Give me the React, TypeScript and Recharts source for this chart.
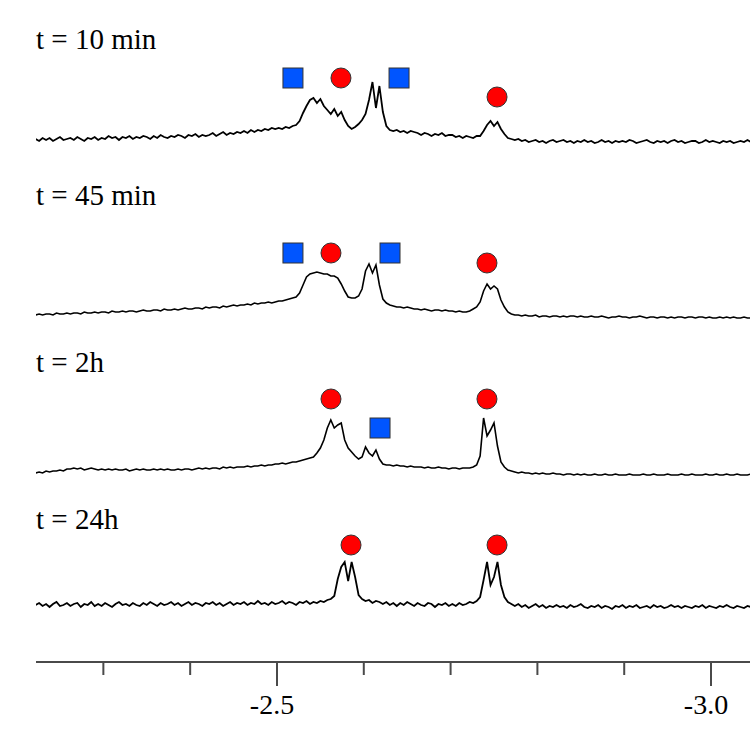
import { ComposedChart, Line, Scatter, XAxis, YAxis } from 'recharts';

// chemical shift grid (ppm), one point every 0.004 ppm from -2.222
const PPM_START = -2.222;
const PPM_STEP = -0.004;

// intensities above each trace baseline
const t10 = [
  1, -1, 2, 0, 2, -1, 1, 3, 0, 1,
  2, 0, 3, 1, -1, 2, 1, 3, 0, 2,
  1, 4, 2, 3, 0, 3, 2, 4, 1, 3,
  2, 4, 3, 1, 4, 2, 5, 3, 2, 4,
  3, 5, 4, 2, 5, 4, 6, 3, 5, 4,
  5, 7, 4, 6, 8, 5, 7, 6, 8, 7,
  9, 7, 10, 8, 10, 9, 11, 10, 12, 11,
  12, 11, 13, 12, 14, 15, 19, 27, 34, 40,
  42, 37, 41, 34, 30, 26, 31, 24, 28, 20,
  14, 11, 13, 16, 20, 26, 40, 58, 32, 54,
  28, 14, 10, 9, 10, 8, 9, 7, 9, 8,
  7, 5, 7, 6, 4, 6, 5, 7, 4, 5,
  5, 3, 4, 2, 4, 3, 2, 4, 4, 9,
  15, 19, 14, 18, 11, 6, 2, 1, 0, 1,
  -1, 0, -2, -1, 0, -2, -1, -3, -1, 0,
  -2, -1, 0, -2, -1, -3, -1, -2, 0, -2,
  -1, -3, -2, 0, -2, -1, -3, -1, -2, -1,
  -2, 0, -1, -3, -2, -1, 0, -2, -3, -1,
  -2, -1, -3, -1, 0, -2, -1, -3, -2, -1,
  -1, -3, -2, 0, -2, -1, -2, -3, -1, -2,
  -1, -3, -2, -1, -2, 0, -2,
];

const t45 = [
  0, 1, 0, 1, 1, 0, 2, 1, 1, 2,
  1, 2, 2, 1, 3, 2, 2, 3, 2, 3,
  3, 2, 4, 3, 3, 4, 3, 4, 4, 3,
  4, 5, 4, 4, 5, 5, 4, 6, 5, 5,
  6, 5, 6, 7, 6, 6, 7, 7, 6, 8,
  7, 8, 8, 7, 9, 8, 9, 10, 9, 10,
  10, 11, 10, 12, 11, 12, 12, 13, 12, 13,
  14, 14, 15, 16, 17, 18, 22, 30, 38, 41,
  42, 43, 42, 41, 41, 39, 39, 37, 31, 24,
  18, 17, 17, 19, 26, 44, 51, 42, 50, 30,
  16, 12, 10, 9, 8, 8, 7, 8, 7, 6,
  6, 5, 6, 5, 4, 5, 5, 4, 5, 4,
  4, 3, 4, 3, 3, 4, 6, 8, 13, 24,
  31, 26, 29, 26, 15, 8, 3, 1, 0, 0,
  -1, 0, -1, -1, 0, -2, -1, -1, -2, -1,
  -1, -2, -1, -2, -1, -1, -2, -1, -2, -2,
  -1, -2, -2, -1, -2, -3, -2, -2, -1, -2,
  -2, -3, -2, -2, -1, -2, -3, -2, -2, -3,
  -2, -2, -3, -2, -3, -2, -2, -3, -2, -2,
  -3, -2, -2, -3, -2, -3, -3, -2, -3, -2,
  -3, -2, -3, -3, -2, -3, -3,
];

const t2h = [
  -3, -2, -3, -1, -2, -1, -1, 0, -1, 1,
  1, 2, 1, 2, 0, 1, 2, 1, 0, 1,
  0, 1, 0, 1, 0, 0, 1, -1, 0, 1,
  0, 1, 0, 0, 1, 0, 1, 0, 1, 0,
  0, 1, 0, 1, 1, 0, 1, 2, 1, 2,
  1, 2, 2, 1, 3, 2, 3, 2, 3, 3,
  3, 4, 3, 4, 4, 5, 4, 5, 5, 6,
  6, 7, 6, 7, 8, 8, 9, 10, 11, 12,
  13, 17, 22, 30, 42, 50, 42, 45, 47, 30,
  22, 18, 14, 11, 13, 23, 17, 14, 20, 11,
  6, 5, 5, 4, 5, 4, 4, 3, 4, 3,
  3, 3, 2, 3, 2, 2, 3, 2, 2, 1,
  2, 2, 1, 2, 2, 2, 3, 5, 14, 52,
  34, 40, 47, 24, 8, 3, 0, -1, -2, -3,
  -2, -3, -3, -4, -3, -4, -3, -4, -4, -3,
  -4, -4, -5, -4, -4, -5, -4, -5, -4, -5,
  -5, -4, -5, -5, -4, -5, -5, -4, -5, -5,
  -5, -4, -5, -5, -5, -4, -5, -5, -4, -5,
  -5, -5, -4, -5, -5, -5, -4, -5, -5, -4,
  -5, -5, -5, -4, -5, -5, -4, -5, -5, -4,
  -5, -5, -4, -5, -5, -5, -4,
];

const t24h = [
  0, 2, -1, 1, -2, 1, 3, -1, 0, 2,
  -1, 1, 2, -2, 1, 0, 3, -1, 1, -1,
  2, 0, -2, 1, 3, 0, 1, -1, 2, 0,
  -1, 2, 0, 3, 1, -1, 2, 0, 1, 3,
  0, 2, -1, 1, 3, 0, 2, 1, -1, 2,
  1, 3, 0, 2, -1, 1, 3, 0, 2, 1,
  3, 0, 2, 1, 4, 1, 2, 0, 3, 1,
  2, 4, 1, 3, 2, 0, 3, 2, 4, 1,
  3, 2, 4, 3, 5, 6, 9, 26, 38, 43,
  24, 43, 28, 10, 6, 4, 5, 2, 4, 3,
  1, 3, 0, 2, -1, 2, 0, 3, 1, -1,
  2, 0, -1, 2, 1, -2, 1, 0, 2, -1,
  1, -1, 2, 0, 1, 3, 2, 4, 8, 25,
  43, 20, 28, 43, 20, 8, 3, 1, -1, 1,
  -2, 0, -3, -1, 1, -2, 0, -3, -1, -2,
  0, -2, -1, -3, 0, -2, -1, 1, -2, -3,
  -1, -2, 0, -3, -1, -2, -4, -1, -2, 0,
  -3, -1, -2, 0, -3, -2, -1, -3, 0, -2,
  -1, -3, -2, 0, -2, -1, -3, -1, -2, -3,
  -1, -2, 0, -3, -1, -2, -3, -1, -2, 0,
  -2, -3, -1, -2, -3, -1, -2,
];

// vertical stacking of the four spectra
const offsets = { t10: 522, t45: 347, t2h: 192, t24h: 57 };

const traceLabels = ['t = 10 min', 't = 45 min', 't = 2h', 't = 24h'];
const labelBaselines = [49, 205, 372, 529];

const markers = [
  { ppm: -2.5184, y: 584, kind: 'square' },
  { ppm: -2.5737, y: 584, kind: 'circle' },
  { ppm: -2.6406, y: 584, kind: 'square' },
  { ppm: -2.7535, y: 565, kind: 'circle' },
  { ppm: -2.5184, y: 409, kind: 'square' },
  { ppm: -2.5622, y: 409, kind: 'circle' },
  { ppm: -2.6302, y: 409, kind: 'square' },
  { ppm: -2.7419, y: 399, kind: 'circle' },
  { ppm: -2.5622, y: 263, kind: 'circle' },
  { ppm: -2.6187, y: 234, kind: 'square' },
  { ppm: -2.7419, y: 263, kind: 'circle' },
  { ppm: -2.5853, y: 117, kind: 'circle' },
  { ppm: -2.7535, y: 117, kind: 'circle' },
];

const xTicks = [-2.3, -2.4, -2.5, -2.6, -2.7, -2.8, -2.9, -3.0];
const majorTicks = [-2.5, -3.0];

const SERIF = "'Liberation Serif', 'Times New Roman', serif";

const rows = t10.map((v, i) => ({
  ppm: +(PPM_START + PPM_STEP * i).toFixed(4),
  t10: v + offsets.t10,
  t45: t45[i] + offsets.t45,
  t2h: t2h[i] + offsets.t2h,
  t24h: t24h[i] + offsets.t24h,
}));

// noisy spectra get a slightly heavier pen, like the scanned original
const strokeWidths = { t10: 1.8, t45: 1.6, t2h: 1.6, t24h: 1.8 };

function PpmTick(props: any) {
  const { x, y, payload } = props;
  const value = payload.value as number;
  const major = majorTicks.some((m) => Math.abs(m - value) < 1e-6);
  return (
    <g>
      <line x1={x} x2={x} y1={y} y2={y + (major ? 24 : 13)} stroke="#4a4a4a" strokeWidth={2} />
      {major && (
        <text x={x - 5} y={y + 52} textAnchor="middle" fontFamily={SERIF} fontSize={28} fill="#000">
          {value.toFixed(1)}
        </text>
      )}
    </g>
  );
}

function Marker(props: any) {
  const { cx, cy, payload } = props;
  if (payload.kind === 'square') {
    return <rect x={cx - 10} y={cy - 10} width={20} height={20} fill="#0055ff" stroke="#333" strokeWidth={1} />;
  }
  return <circle cx={cx} cy={cy} r={10} fill="#ff0000" stroke="#333" strokeWidth={1} />;
}

export default function App() {
  return (
    <div style={{ position: 'absolute', left: 0, top: 0, width: 750, height: 740, background: '#fff' }}>
      <ComposedChart width={750} height={740} data={rows} margin={{ top: 0, right: 0, left: 36, bottom: 0 }}>
        <XAxis
          dataKey="ppm"
          type="number"
          domain={[-3.0449, -2.2224]}
          reversed
          allowDataOverflow
          ticks={xTicks}
          interval={0}
          height={78}
          tickSize={0}
          tickMargin={0}
          tickLine={false}
          axisLine={{ stroke: '#4a4a4a', strokeWidth: 2 }}
          tick={<PpmTick />}
        />
        <YAxis hide type="number" domain={[0, 662]} allowDataOverflow />
        {(['t10', 't45', 't2h', 't24h'] as const).map((key) => (
          <Line
            key={key}
            dataKey={key}
            type="linear"
            stroke="#000"
            strokeWidth={strokeWidths[key]}
            dot={false}
            isAnimationActive={false}
          />
        ))}
        <Scatter data={markers} dataKey="y" shape={<Marker />} isAnimationActive={false} />
      </ComposedChart>
      <svg width={750} height={740} style={{ position: 'absolute', left: 0, top: 0, pointerEvents: 'none' }}>
        {traceLabels.map((label, i) => (
          <text key={label} x={36} y={labelBaselines[i]} fontFamily={SERIF} fontSize={29} fill="#000">
            {label}
          </text>
        ))}
      </svg>
    </div>
  );
}
